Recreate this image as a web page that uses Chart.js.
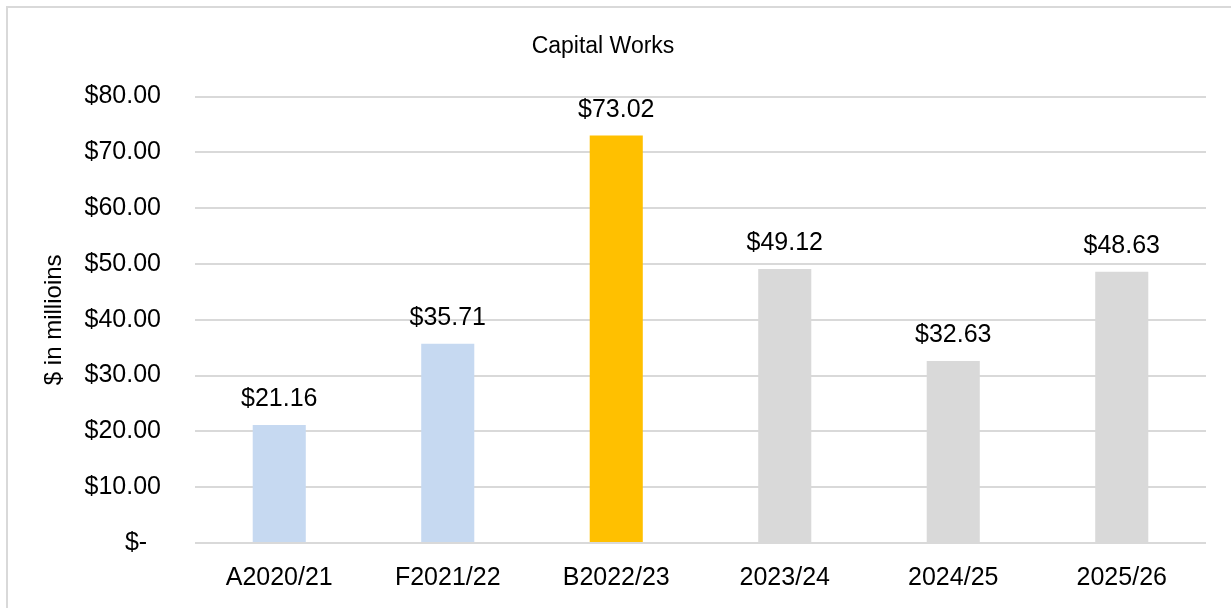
<!DOCTYPE html>
<html>
<head>
<meta charset="utf-8">
<script src="https://cdn.jsdelivr.net/npm/chart.js@4"></script>
<style>
    html, body { margin: 0; padding: 0; background: #ffffff; }
    #wrap { position: relative; width: 1231px; height: 608px; overflow: hidden; }
    #frame {
        position: absolute; left: 6px; top: 6px; width: 1400px; height: 800px;
        border-left: 2px solid #d9d9d9; border-top: 2px solid #d9d9d9;
    }
    canvas { position: absolute; left: 0; top: 0; }
</style>
</head>
<body>
<div id="wrap">
    <div id="frame"></div>
    <canvas id="capitalChart" width="1231" height="608"></canvas>
</div>
<script>
const categories = ['A2020/21', 'F2021/22', 'B2022/23', '2023/24', '2024/25', '2025/26'];
const capitalWorks = [21.16, 35.71, 73.02, 49.12, 32.63, 48.63];
const barColours = ['#c6d9f1', '#c6d9f1', '#ffc000', '#d9d9d9', '#d9d9d9', '#d9d9d9'];
const yTickValues = [0, 10, 20, 30, 40, 50, 60, 70, 80];
const yTickLabels = ['$-  ', '$10.00', '$20.00', '$30.00', '$40.00', '$50.00', '$60.00', '$70.00', '$80.00'];

const fontFamily = "'Liberation Sans', Arial, sans-serif";

// value labels above each bar
const barValueLabels = {
    id: 'barValueLabels',
    afterDatasetsDraw(chart) {
        const { ctx } = chart;
        const meta = chart.getDatasetMeta(0);
        ctx.save();
        ctx.font = '25px ' + fontFamily;
        ctx.fillStyle = '#000000';
        ctx.textAlign = 'center';
        ctx.textBaseline = 'alphabetic';
        meta.data.forEach((bar, i) => {
            ctx.fillText('$' + capitalWorks[i].toFixed(2), bar.x, bar.y - 19);
        });
        ctx.restore();
    }
};

new Chart(document.getElementById('capitalChart'), {
    type: 'bar',
    data: {
        labels: categories,
        datasets: [{
            label: 'Capital Works',
            data: capitalWorks,
            backgroundColor: barColours,
            borderWidth: 0,
            categoryPercentage: 1,
            barPercentage: 0.315
        }]
    },
    options: {
        responsive: false,
        animation: false,
        layout: {
            padding: { left: 0, right: 25, top: 0, bottom: 0 }
        },
        plugins: {
            legend: { display: false },
            tooltip: { enabled: false },
            title: {
                display: true,
                text: 'Capital Works',
                color: '#000000',
                font: { family: fontFamily, size: 23, weight: 'normal' },
                padding: { top: 33, bottom: 36 }
            }
        },
        scales: {
            x: {
                afterFit(scale) {
                    scale.height = 65;
                },
                grid: { display: false, drawTicks: false },
                border: { display: false },
                ticks: {
                    color: '#000000',
                    font: { family: fontFamily, size: 25 },
                    padding: 20,
                    maxRotation: 0
                }
            },
            y: {
                min: 0,
                max: 80,
                afterBuildTicks(scale) {
                    scale.ticks = yTickValues.map(v => ({ value: v }));
                },
                afterFit(scale) {
                    scale.width = 195;
                },
                grid: {
                    color: '#d9d9d9',
                    lineWidth: 2,
                    drawTicks: false
                },
                border: { display: false },
                ticks: {
                    color: '#000000',
                    font: { family: fontFamily, size: 25 },
                    padding: 34,
                    callback: function(value, index) {
                        return yTickLabels[index];
                    }
                },
                title: {
                    display: true,
                    text: '$ in millioins',
                    color: '#000000',
                    font: { family: fontFamily, size: 24 },
                    padding: { top: 40, bottom: 0 }
                }
            }
        }
    },
    plugins: [barValueLabels]
});
</script>
</body>
</html>
